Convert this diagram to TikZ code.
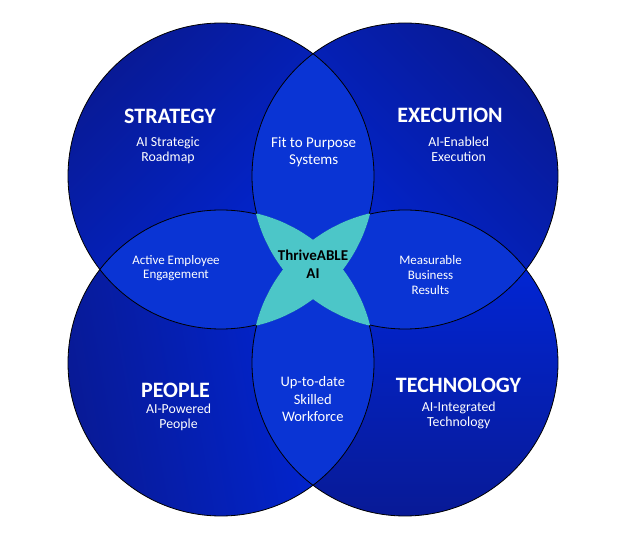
\documentclass[tikz,border=0pt]{standalone}
\usepackage{fontspec}
\setmainfont{Carlito}
\definecolor{cdark}{RGB}{8,26,150}
\definecolor{cbright}{RGB}{0,40,225}
\definecolor{clens}{RGB}{10,52,212}
\definecolor{cteal}{RGB}{76,198,200}
\newcommand\Rad{153}
\newcommand\tealpart[3]{%
  \begin{scope}
    \clip (#1) circle[radius=\Rad];
    \clip (#2) circle[radius=\Rad];
    \path[fill=cteal, draw=cteal, line width=1.4pt] (#3) circle[radius=\Rad];
  \end{scope}}
\newcommand\lenspart[2]{%
  \begin{scope}
    \clip (#1) circle[radius=\Rad];
    \fill[clens] (#2) circle[radius=\Rad];
  \end{scope}}
\begin{document}
\begin{tikzpicture}[x=1pt, y=-1pt,
  ttl/.style={text=white, font=\fontsize{22}{24}\selectfont\bfseries, anchor=base, inner sep=0pt},
  sub/.style={text=white, font=\fontsize{13.8}{15}\selectfont, align=center, anchor=base, inner sep=0pt},
  lns/.style={text=white, align=center, anchor=base, inner sep=0pt},
  ring/.style={draw=black, line width=0.8pt}]
\useasboundingbox (0,0) rectangle (625,540);
\coordinate (cS) at (221,176);
\coordinate (cE) at (405,176);
\coordinate (cP) at (221,363);
\coordinate (cT) at (405,363);
% circles with gradients
\shade[top color=cdark, bottom color=cbright, shading angle=45] (cS) circle[radius=\Rad];
\shade[top color=cdark, bottom color=cbright, shading angle=-45] (cE) circle[radius=\Rad];
\shade[top color=cdark, bottom color=cbright, shading angle=100] (cP) circle[radius=\Rad];
\shade[top color=cdark, bottom color=cbright, shading angle=180] (cT) circle[radius=\Rad];
% pairwise lenses
\lenspart{cS}{cE}
\lenspart{cS}{cP}
\lenspart{cE}{cT}
\lenspart{cP}{cT}
\lenspart{cS}{cT}
\lenspart{cE}{cP}
% outlines
\foreach \c in {cS,cE,cP,cT} \draw[ring] (\c) circle[radius=\Rad];
% centre (covered by three circles)
\tealpart{cS}{cE}{cP}\tealpart{cS}{cP}{cE}\tealpart{cE}{cP}{cS}
\tealpart{cS}{cE}{cT}\tealpart{cS}{cT}{cE}\tealpart{cE}{cT}{cS}
\tealpart{cS}{cP}{cT}\tealpart{cS}{cT}{cP}\tealpart{cP}{cT}{cS}
\tealpart{cE}{cP}{cT}\tealpart{cE}{cT}{cP}\tealpart{cP}{cT}{cE}
% texts (multi-line nodes: base = baseline of last line)
\node[ttl] (tS) at (170,123.3) {STRATEGY};
\node[sub] (sS) at (168,161.7) {AI Strategic\\Roadmap};
\node[ttl] (tE) at (450,122.7) {EXECUTION};
\node[sub] (sE) at (458.7,161.7) {AI-Enabled\\Execution};
\node[ttl] (tP) at (175.5,397.3) {PEOPLE};
\node[sub] (sP) at (178.6,429) {AI-Powered\\People};
\node[ttl] (tT) at (458.5,392.3) {TECHNOLOGY};
\node[sub] (sT) at (458.8,426.7) {AI-Integrated\\Technology};
\node[lns, font=\fontsize{15}{17.7}\selectfont] (lSE) at (313.7,165) {Fit to Purpose\\Systems};
\node[lns, font=\fontsize{13}{14.7}\selectfont] (lSP) at (176,279) {Active Employee\\Engagement};
\node[lns, font=\fontsize{13}{15}\selectfont] (lET) at (430.5,294.3) {Measurable\\Business\\Results};
\node[lns, font=\fontsize{14.5}{17.5}\selectfont] (lPT) at (312.8,421.7) {Up-to-date\\Skilled\\Workforce};
\node[lns, text=black, font=\fontsize{15}{18}\selectfont\bfseries] (ctr) at (313,279) {ThriveABLE\\AI};
\end{tikzpicture}
\end{document}
